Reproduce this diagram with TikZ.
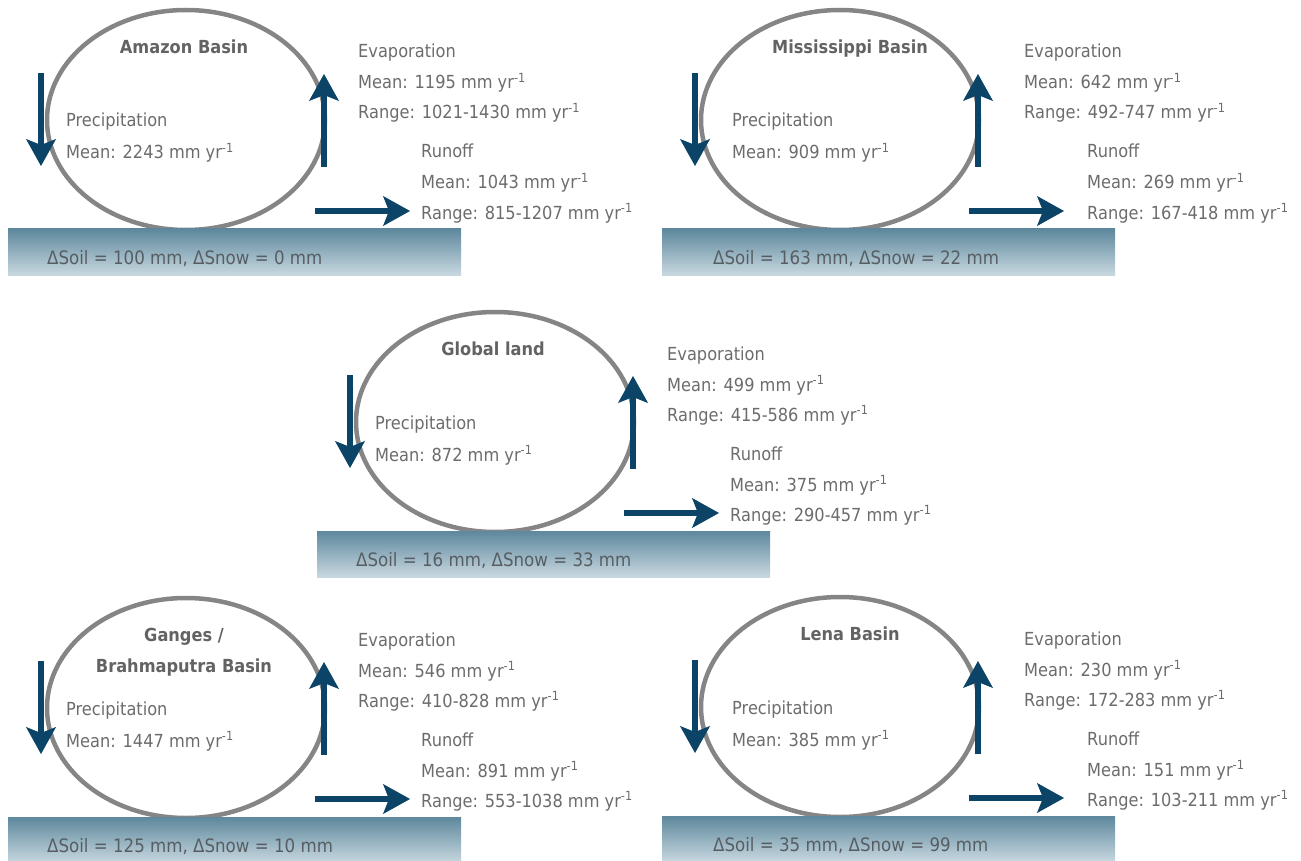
\documentclass[tikz,border=0pt]{standalone}
\usepackage{fontspec}
\setmainfont{DejaVu Sans}[FakeStretch=0.9]
\usetikzlibrary{shapes.geometric,arrows.meta}
\definecolor{flowblue}{HTML}{0B4467}
\definecolor{ringgray}{HTML}{858585}
\definecolor{labelgray}{HTML}{6C6C6C}
\definecolor{titlegray}{HTML}{636363}
\definecolor{bartext}{HTML}{575E63}
\definecolor{bartop}{HTML}{5E889D}
\definecolor{barbot}{HTML}{C8D8E0}
\newcommand\peryr{mm yr\textsuperscript{-1}}
\tikzset{
  ring/.style={ellipse, draw=ringgray, line width=4.5pt, minimum width=278pt, minimum height=220pt, inner sep=0pt},
  groundbar/.style={rectangle, top color=bartop, bottom color=barbot, draw=none, minimum width=453pt, minimum height=46pt, inner sep=0pt},
  flow/.style={draw=flowblue, line width=6.5pt, -{Stealth[length=27pt 0, width=30pt 0, inset=6pt 0, line width=1pt, flowblue]}},
  lbl/.style={anchor=base west, inner sep=0pt, text=labelgray, font=\fontsize{18}{20}\selectfont},
  bartxt/.style={anchor=base west, inner sep=0pt, text=bartext, font=\fontsize{18.5}{20}\selectfont},
  titletext/.style={anchor=north, inner sep=0pt, align=center, text=titlegray, font=\fontsize{18}{31}\selectfont\bfseries},
}
\newcommand\basin[9]{%
\begin{scope}[#1]
  \node[ring] (ring) at (186,120) {};
  \node[groundbar] (bar) at (234.5,252) {};
  \coordinate (ptop) at (41,73);
  \coordinate (pbot) at (41,166);
  \coordinate (ebot) at (324,167);
  \coordinate (etop) at (324,74);
  \coordinate (rl) at (315,211);
  \coordinate (rr) at (410,211);
  \draw[flow] (ptop) -- (pbot);
  \draw[flow] (ebot) -- (etop);
  \draw[flow] (rl) -- (rr);
  \node[titletext] (title) at ({184+#2},39.5) {#3};
  \node[lbl] (ph) at ({66+#2},127) {Precipitation};
  \node[lbl] (pm) at ({66+#2},159) {Mean: #4 \peryr};
  \node[lbl] (eh) at ({358+#2},58) {Evaporation};
  \node[lbl] (em) at ({358+#2},89) {Mean: #5 \peryr};
  \node[lbl] (er) at ({358+#2},119) {Range: #6 \peryr};
  \node[lbl] (rh) at ({421+#2},158) {Runoff};
  \node[lbl] (rm) at ({421+#2},189) {Mean: #7 \peryr};
  \node[lbl] (rg) at ({421+#2},219) {Range: #8 \peryr};
  \node[bartxt] (soil) at ({47+#2},264) {#9};
\end{scope}}
\begin{document}
\begin{tikzpicture}[x=1pt,y=-1pt]
\useasboundingbox (0,0) rectangle (1301,861);
\basin{shift={(0,0)},name prefix=amazon-}{0}{Amazon Basin}{2243}{1195}{1021-1430}{1043}{815-1207}{ΔSoil = 100 mm, ΔSnow = 0 mm}
\basin{shift={(654,0)},name prefix=miss-}{12}{Mississippi Basin}{909}{642}{492-747}{269}{167-418}{ΔSoil = 163 mm, ΔSnow = 22 mm}
\basin{shift={(309,302)},name prefix=global-}{0}{Global land}{872}{499}{415-586}{375}{290-457}{ΔSoil = 16 mm, ΔSnow = 33 mm}
\basin{shift={(0,588)},name prefix=ganges-}{0}{Ganges /\\Brahmaputra Basin}{1447}{546}{410-828}{891}{553-1038}{ΔSoil = 125 mm, ΔSnow = 10 mm}
\basin{shift={(654,587)},name prefix=lena-}{12}{Lena Basin}{385}{230}{172-283}{151}{103-211}{ΔSoil = 35 mm, ΔSnow = 99 mm}
\end{tikzpicture}
\end{document}
